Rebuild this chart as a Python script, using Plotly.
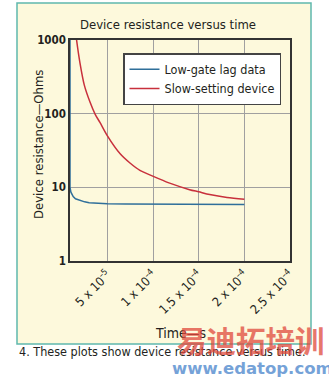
import plotly.graph_objects as go

# ---- data ----
blue_t = [0.9e-5, 0.9e-5, 1.0e-5, 1.1e-5, 1.25e-5, 1.5e-5, 2.0e-5, 2.5e-5, 3.0e-5, 4.0e-5,
          5.0e-5, 7.0e-5, 1.0e-4, 1.5e-4, 2.0e-4]
blue_v = [1500, 10.0, 8.6, 8.0, 7.5, 7.0, 6.6, 6.35, 6.2, 6.05, 5.98, 5.92, 5.9, 5.87, 5.85]
red_t = [1.33e-5, 1.62e-5, 1.99e-5, 2.46e-5, 3.08e-5, 3.66e-5, 4.18e-5, 4.98e-5, 6.37e-5, 7.47e-5,
         8.56e-5, 9.96e-5, 1.182e-4, 1.40e-4, 1.50e-4, 1.62e-4, 1.81e-4, 2.0e-4]
red_v = [1980, 1000, 489, 246, 145, 98, 76, 50.4, 28.8, 21.4,
         17.0, 14.2, 11.4, 9.3, 8.7, 8.0, 7.3, 6.9]
x_ticks = [5e-5, 1e-4, 1.5e-4, 2e-4, 2.5e-4]
x_tick_labels = ["5 x 10<sup>–5</sup>", "1 x 10<sup>–4</sup>", "1.5 x 10<sup>–4</sup>",
                 "2 x 10<sup>–4</sup>", "2.5 x 10<sup>–4</sup>"]
y_ticks = [1, 10, 100, 1000]
y_tick_labels = ["1", "10", "100", "1000"]

FONT = "DejaVu Sans Condensed, Liberation Sans Narrow, sans-serif"
INK = "#231f20"

# plot area in pixels: left 70, right 290, top 40, bottom 261
L, R, T, B = 70, 290, 40, 261
W, H = R - L, B - T


def px(x):
    return (x - L) / W


def py(y):
    return (B - y) / H


fig = go.Figure()
fig.add_trace(go.Scatter(x=blue_t, y=blue_v, mode="lines", name="Low-gate lag data",
                         line=dict(color="#2f6f9a", width=1.5)))
fig.add_trace(go.Scatter(x=red_t, y=red_v, mode="lines", name="Slow-setting device",
                         line=dict(color="#c8303c", width=1.5, shape="spline", smoothing=0.8)))

fig.update_layout(
    width=329, height=378,
    margin=dict(l=L, r=329 - R, t=T, b=378 - B),
    paper_bgcolor="white", plot_bgcolor="white",
    font=dict(family=FONT, color=INK, size=12),
    showlegend=True,
    legend=dict(x=px(123), y=py(53), xanchor="left", yanchor="top",
                bgcolor="white", bordercolor="#444444", borderwidth=1.5,
                font=dict(family=FONT, size=12.5, color=INK),
                tracegroupgap=0, itemwidth=30),
    xaxis=dict(range=[0.9e-5, 2.5e-4], tickmode="array", tickvals=x_ticks, ticktext=x_tick_labels,
               tickangle=-45, showgrid=True, gridcolor="#a0a0a0", gridwidth=1,
               showline=True, linecolor="#333333", linewidth=1.5, mirror=True,
               ticks="", zeroline=False, tickfont=dict(size=12.5, family=FONT, color=INK),
               layer="below traces"),
    yaxis=dict(type="log", range=[0, 3], tickmode="array", tickvals=y_ticks, ticktext=y_tick_labels,
               showgrid=True, gridcolor="#a0a0a0", gridwidth=1,
               showline=True, linecolor="#333333", linewidth=1.5, mirror=True,
               ticks="", zeroline=False,
               tickfont=dict(size=11.5, family=FONT, color=INK, weight="bold"),
               layer="below traces"),
)

# cream panel with teal border
fig.add_shape(type="rect", xref="paper", yref="paper",
              x0=px(17), x1=px(311), y0=py(344), y1=py(3),
              fillcolor="#fdf9dc", line=dict(color="#5fb8ad", width=1.5), layer="below")

common = dict(xref="paper", yref="paper", showarrow=False, xanchor="center", yanchor="middle")
fig.add_annotation(text="Device resistance versus time", x=px(168), y=py(24),
                   font=dict(size=13, family=FONT, color=INK), **common)
fig.add_annotation(text="Device resistance—Ohms", x=px(38), y=py(145), textangle=-90,
                   font=dict(size=13, family=FONT, color=INK), **common)
fig.add_annotation(text="Time—s", x=px(180), y=py(333),
                   font=dict(size=14, family=FONT, color=INK), **common)
fig.add_annotation(text="4. These plots show device resistance versus time.",
                   x=px(17), y=py(351), xref="paper", yref="paper", showarrow=False,
                   xanchor="left", yanchor="middle",
                   font=dict(size=12.5, family=FONT, color=INK))
# watermark
fig.add_annotation(text="<b>易迪拓培训</b>", x=px(251), y=py(339), opacity=0.75,
                   font=dict(size=29.5, family="Noto Sans CJK SC", color="#e04a3c"), **common)
fig.add_annotation(text="<b>www.edatop.com</b>", x=px(252), y=py(368), opacity=0.7,
                   font=dict(size=16.5, family="DejaVu Sans", color="#3c7cc8"), **common)

fig.write_html("out.html")
